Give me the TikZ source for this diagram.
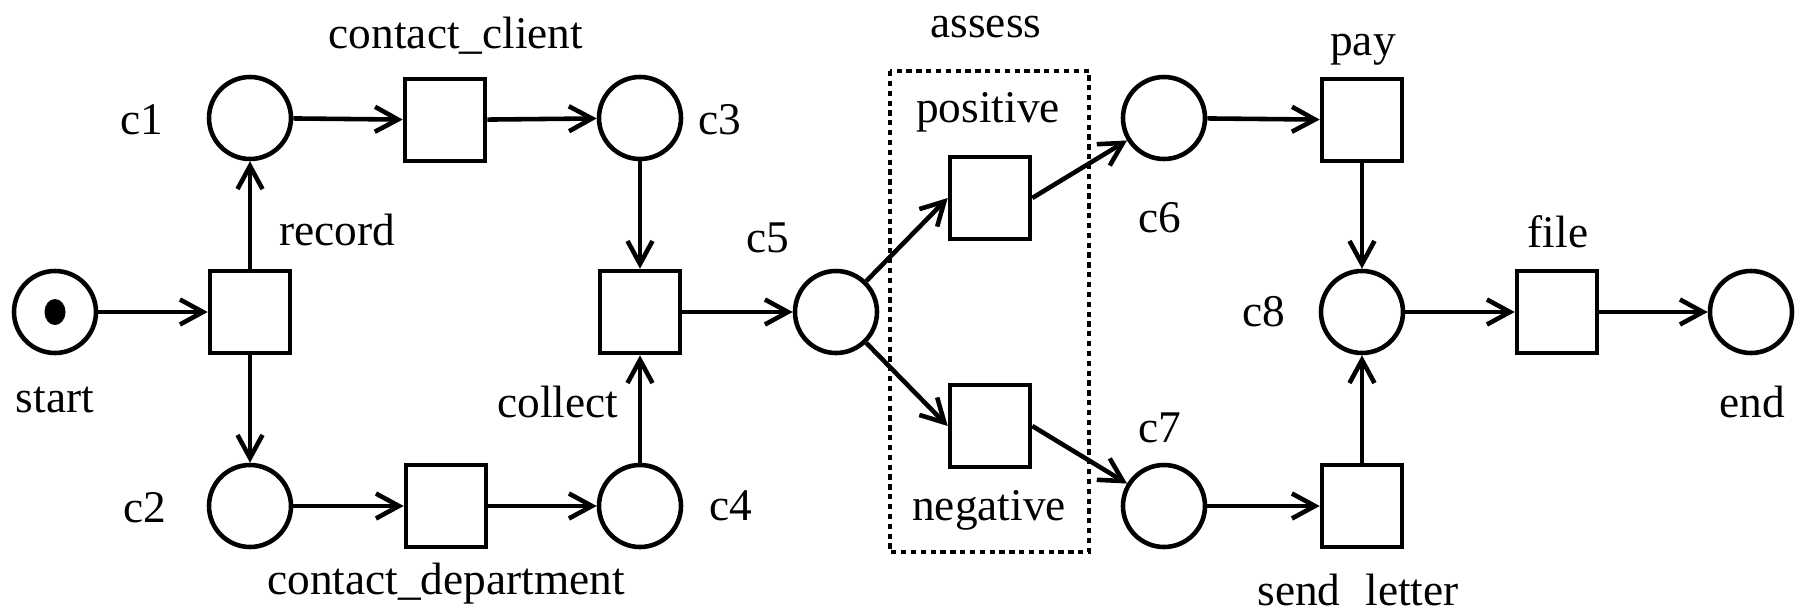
\documentclass[tikz,border=0pt]{standalone}
\usepackage{fontspec}
\setmainfont{Liberation Serif}
\usetikzlibrary{arrows.meta}
\begin{document}
\begin{tikzpicture}[x=0.1mm, y=-0.1mm, line width=1.3pt, >={Straight Barb[length=2.3mm,width=2.5mm]},
		font=\fontsize{12.9}{15}\selectfont,
		place/.style={draw, circle, minimum size=8.2mm, inner sep=0pt},
		trans/.style={draw, rectangle, minimum width=8mm, minimum height=8.2mm, inner sep=0pt},
		lbl/.style={inner sep=0pt},
		arc/.style={->},
		assessbox/.style={dash pattern=on 1.5pt off 1.3pt}]
			\useasboundingbox (0,0) rectangle (1801,614);
			\foreach \n/\x/\y in {start/55/312, c1/250/118, c2/250/506, c3/640/118, c4/640/506, c5/836/312, c6/1164/118, c7/1164/506, c8/1362/312, end/1751/312}
				\node[place] (\n) at (\x,\y) {};
			\foreach \n/\x/\y in {record/250/312, cclient/445/120, cdept/446/506, collect/640/312, positive/990/198, negative/990/426, pay/1362/120, sendletter/1362/506, file/1557/312}
				\node[trans] (\n) at (\x,\y) {};
			\fill (start) ellipse [x radius=1.05mm, y radius=1.3mm];
			\draw[assessbox] (890,71) rectangle (1089,552);
			\foreach \a/\b in {start/record, record/c1, record/c2, c1/cclient, cclient/c3, c2/cdept, cdept/c4, c3/collect, c4/collect, collect/c5, c6/pay, c7/sendletter, pay/c8, sendletter/c8, c8/file, file/end}
				\draw[arc] (\a) -- (\b);
			\draw[arc] (c5) -- (positive.west);
			\draw[arc] (c5) -- (negative.west);
			\draw[arc] (positive.east) -- (c6);
			\draw[arc] (negative.east) -- (c7);
			\foreach \t/\n/\x/\y in {start/lstart/55/400, record/lrecord/337/230, c1/lc1/142/120, c2/lc2/145/508, contact\_client/lcclient/456/36, contact\_department/lcdept/446/584, c3/lc3/720/120, c4/lc4/731/506, collect/lcollect/558/402, c5/lc5/768/238, assess/lassess/986/27, positive/lpositive/988/112, negative/lnegative/989/510, c6/lc6/1160/218, c7/lc7/1160/428, pay/lpay/1363/50, file/lfile/1558/232, c8/lc8/1264/312, end/lend/1752/402}
				\node[lbl] (\n) at (\x,\y) {\t};
			\node[lbl] (lsendletter) at (1358,590) {send\hspace{0.55em}letter};
		\end{tikzpicture}
\end{document}
